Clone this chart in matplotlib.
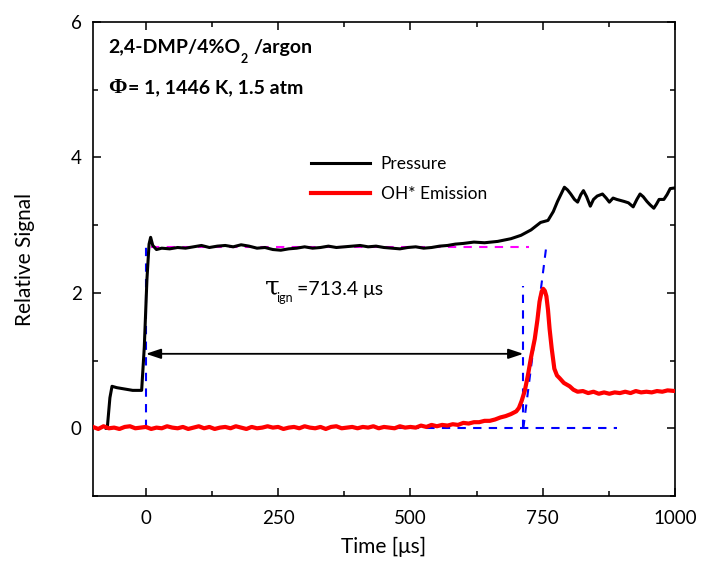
#!/usr/bin/env python3
import numpy as np
import matplotlib
matplotlib.use("Agg")
import matplotlib.pyplot as plt
from matplotlib.ticker import MultipleLocator

plt.rcParams['font.family'] = ['Lato', 'DejaVu Sans']

# pressure trace (time in us, relative signal)
P_TIME = [-75, -73, -68, -64, -55, -40, -25, -8, -3, 2, 6, 9, 13, 20, 30, 45,
          60, 75, 90, 105, 120, 135, 150, 165, 180, 195, 210, 225, 240, 255,
          270, 285, 300, 315, 330, 345, 360, 375, 390, 405, 420, 435, 450,
          465, 480, 495, 510, 525, 540, 555, 570, 585, 600, 620, 640, 665,
          690, 709, 728, 746, 760, 770, 778, 791, 797, 803, 810, 816, 822,
          827, 833, 840, 846, 853, 863, 870, 876, 883, 890, 904, 912, 921,
          928, 934, 940, 947, 953, 960, 965, 970, 979, 985, 991, 1000]
P_SIG = [0.0, 0.0, 0.45, 0.62, 0.60, 0.58, 0.56, 0.56, 1.2, 2.2, 2.72, 2.82,
         2.70, 2.64, 2.66, 2.65, 2.67, 2.66, 2.68, 2.70, 2.67, 2.69, 2.70,
         2.68, 2.71, 2.69, 2.66, 2.67, 2.64, 2.63, 2.65, 2.66, 2.68, 2.66,
         2.67, 2.69, 2.67, 2.68, 2.69, 2.70, 2.68, 2.69, 2.67, 2.66, 2.65,
         2.67, 2.68, 2.66, 2.67, 2.69, 2.70, 2.72, 2.73, 2.75, 2.74, 2.76,
         2.80, 2.85, 2.93, 3.04, 3.07, 3.20, 3.35, 3.56, 3.52, 3.46, 3.38,
         3.34, 3.45, 3.51, 3.42, 3.28, 3.38, 3.43, 3.46, 3.40, 3.34, 3.40,
         3.38, 3.35, 3.33, 3.27, 3.38, 3.46, 3.42, 3.35, 3.30, 3.25, 3.31,
         3.38, 3.38, 3.45, 3.54, 3.55]

# OH* emission trace
OH_TIME = list(range(-100, 701, 10)) + [
    705, 710, 716, 722, 728, 735, 740, 744, 748, 751, 754, 757, 760, 763,
    767, 772, 777, 782, 790, 801, 808, 816, 826, 836, 846, 856, 866, 876,
    886, 896, 906, 916, 926, 936, 946, 956, 966, 976, 986, 1000]
OH_SIG = [
    0.02, -0.01, 0.03, 0.00, 0.01, -0.01, 0.02, 0.03, 0.00, 0.01,
    0.02, -0.01, 0.01, 0.00, 0.03, 0.01, 0.00, 0.02, -0.01, 0.01,
    0.03, 0.00, 0.02, -0.01, 0.01, 0.02, 0.00, 0.03, 0.01, -0.01,
    0.02, 0.00, 0.01, 0.03, 0.01, 0.02, -0.01, 0.01, 0.02, 0.00,
    0.03, 0.01, 0.00, 0.02, -0.01, 0.02, 0.03, 0.00, 0.01, 0.02,
    0.00, 0.02, 0.01, 0.03, 0.00, 0.02, 0.01, 0.00, 0.03, 0.01, 0.02,
    0.01, 0.04, 0.02, 0.05, 0.03, 0.05, 0.04, 0.06, 0.05, 0.08,
    0.07, 0.09, 0.09, 0.11, 0.11, 0.13, 0.16, 0.18, 0.21, 0.25,
    0.30, 0.40, 0.55, 0.78, 1.05, 1.32, 1.60, 1.87, 2.02, 2.06, 2.03,
    1.95, 1.75, 1.47, 1.18, 0.88, 0.78, 0.74, 0.67, 0.62, 0.57, 0.54,
    0.55, 0.52, 0.54, 0.51, 0.53, 0.51, 0.53, 0.52, 0.54, 0.52, 0.55,
    0.53, 0.54, 0.53, 0.55, 0.54, 0.56, 0.55]

# construction lines for the ignition delay
T_IGN = 713.4
PLATEAU = 2.68
PLATEAU_RANGE = [10, 725]
TANGENT_X = [T_IGN, 757]
TANGENT_Y = [0, 2.70]
BASE_RANGE = [470, 890]


def main():
    fig = plt.figure(figsize=(7.07, 5.69), dpi=100)
    ax = fig.add_axes([0.1315, 0.1283, 0.8232, 0.833])

    dash = dict(color='blue', lw=1.5, dashes=(4, 3.5))
    ax.plot([0, 0], [0, PLATEAU], **dash)
    ax.plot([T_IGN, T_IGN], [0, 2.1], **dash)
    ax.plot(TANGENT_X, TANGENT_Y, **dash)
    ax.plot(BASE_RANGE, [0, 0], **dash)
    ax.plot(PLATEAU_RANGE, [PLATEAU, PLATEAU], color='#ff00ff', lw=1.5,
            dashes=(4, 3.5))

    ax.plot(P_TIME, P_SIG, color='black', lw=2.2, label='Pressure',
            zorder=3)
    ax.plot(OH_TIME, OH_SIG, color='red', lw=3.0, label='OH* Emission',
            zorder=3)

    ax.annotate('', xy=(0, 1.1), xytext=(T_IGN, 1.1),
                arrowprops=dict(arrowstyle='<|-|>,head_length=0.9,head_width=0.3',
                                color='black', lw=1.3, shrinkA=0, shrinkB=0))

    ax.text(224, 1.97, 'τ', fontsize=19, family='DejaVu Serif',
            va='baseline')
    ax.text(247, 1.87, 'ign', fontsize=9, va='baseline')
    ax.text(286, 1.97, '=713.4 μs', fontsize=14, va='baseline')

    ax.text(0.026, 0.947, '2,4-DMP/4%O', transform=ax.transAxes,
            fontsize=14, fontweight='bold', va='center')
    ax.text(0.254, 0.922, '2', transform=ax.transAxes,
            fontsize=9, fontweight='bold', va='center')
    ax.text(0.276, 0.947, '/argon', transform=ax.transAxes,
            fontsize=14, fontweight='bold', va='center')
    ax.text(0.026, 0.861, 'Φ', transform=ax.transAxes, fontsize=16,
            fontweight='bold', family='Liberation Serif', va='center')
    ax.text(0.060, 0.861, '= 1, 1446 K, 1.5 atm', transform=ax.transAxes,
            fontsize=14, fontweight='bold', va='center')

    ax.legend(loc='upper left', bbox_to_anchor=(0.375, 0.717),
              frameon=False, fontsize=12.5, handlelength=3.4,
              handletextpad=0.6, labelspacing=0.8, borderpad=0,
              borderaxespad=0)

    ax.set_xlim(-100, 1000)
    ax.set_ylim(-1, 6)
    ax.xaxis.set_major_locator(MultipleLocator(250))
    ax.xaxis.set_minor_locator(MultipleLocator(125))
    ax.yaxis.set_major_locator(MultipleLocator(2))
    ax.yaxis.set_minor_locator(MultipleLocator(1))
    ax.tick_params(which='both', direction='in', top=True, right=True,
                   labelsize=13.5, width=1.1)
    ax.tick_params(which='major', length=6)
    ax.tick_params(which='minor', length=3.5)
    ax.tick_params(axis='x', pad=10)
    ax.tick_params(axis='y', pad=8)
    for s in ax.spines.values():
        s.set_linewidth(1.2)

    ax.set_xlabel('Time [μs]', fontsize=15, labelpad=7)
    ax.set_ylabel('Relative Signal', fontsize=15, labelpad=26)

    fig.savefig('out.png', dpi=100)


if __name__ == '__main__':
    main()
